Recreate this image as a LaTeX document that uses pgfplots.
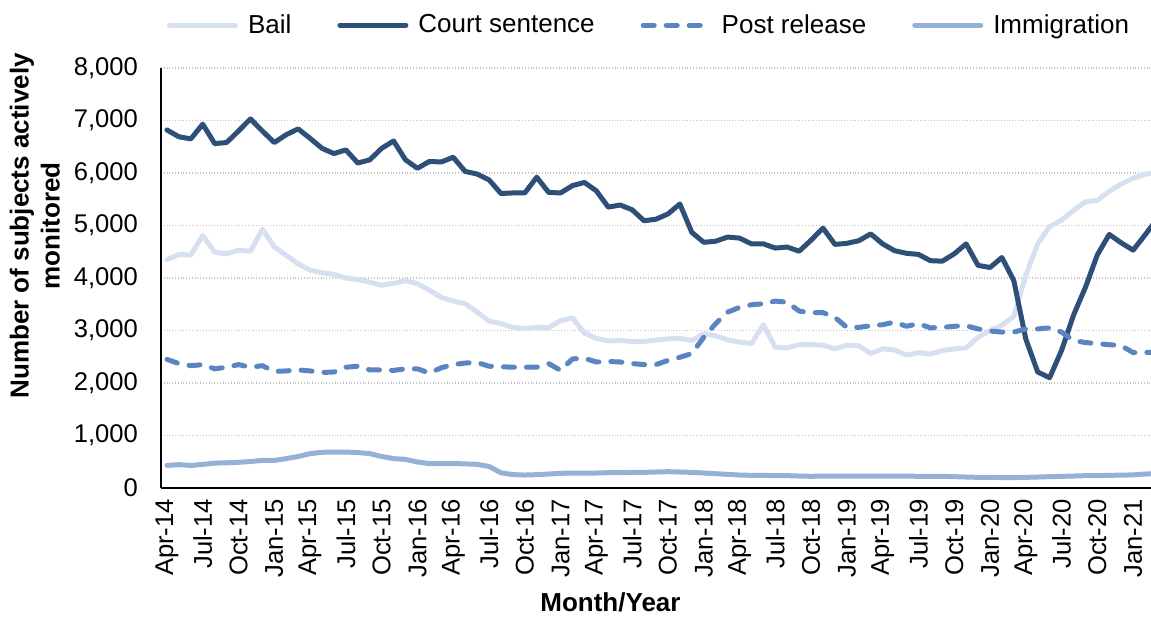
\documentclass[border=0pt]{standalone}
\usepackage{pgfplots}
\pgfplotsset{compat=1.18}
\usepackage{pgfplotstable}
\usepackage{fontspec}
\setmainfont{Liberation Sans}
\usetikzlibrary{calc}

\definecolor{bailc}{HTML}{D6E0F0}
\definecolor{courtc}{HTML}{2E5078}
\definecolor{postc}{HTML}{5A85C2}
\definecolor{immc}{HTML}{95B1D7}

% month index (0 = Apr-14), subjects actively monitored
\pgfplotstableread{
i  bail court post imm
0  4350 6820 2450 430
1  4445 6690 2370 445
2  4440 6650 2330 430
3  4810 6930 2350 450
4  4490 6560 2270 475
5  4460 6580 2300 480
6  4530 6800 2350 490
7  4510 7030 2300 505
8  4930 6800 2330 525
9  4590 6580 2220 525
10 4430 6730 2230 560
11 4270 6840 2250 600
12 4150 6660 2230 655
13 4100 6470 2200 680
14 4070 6370 2210 685
15 4000 6440 2300 685
16 3970 6190 2320 675
17 3920 6250 2250 655
18 3860 6470 2250 600
19 3900 6610 2240 560
20 3950 6250 2270 545
21 3890 6090 2270 495
22 3770 6220 2190 465
23 3630 6210 2290 465
24 3560 6300 2350 465
25 3510 6030 2380 460
26 3350 5980 2390 450
27 3180 5870 2320 410
28 3130 5610 2310 290
29 3060 5620 2300 255
30 3040 5620 2300 247
31 3060 5920 2300 254
32 3050 5630 2370 266
33 3190 5620 2240 279
34 3240 5760 2460 285
35 2950 5820 2470 285
36 2850 5660 2400 285
37 2800 5350 2410 292
38 2810 5390 2400 292
39 2790 5300 2370 298
40 2790 5090 2350 298
41 2820 5120 2350 304
42 2840 5220 2430 311
43 2850 5410 2490 304
44 2810 4870 2560 298
45 2940 4680 2870 285
46 2900 4700 3130 273
47 2820 4780 3350 260
48 2780 4760 3440 247
49 2750 4650 3490 241
50 3110 4650 3510 241
51 2680 4570 3560 235
52 2670 4590 3540 235
53 2730 4510 3370 228
54 2730 4720 3340 222
55 2720 4950 3340 228
56 2650 4640 3250 228
57 2720 4660 3060 228
58 2710 4710 3060 228
59 2560 4840 3090 228
60 2650 4650 3110 228
61 2630 4520 3160 228
62 2530 4470 3080 228
63 2580 4450 3130 222
64 2550 4330 3050 222
65 2620 4320 3060 222
66 2650 4460 3080 216
67 2670 4650 3090 209
68 2870 4240 3030 203
69 3000 4200 2990 203
70 3100 4390 2970 197
71 3270 3950 2970 197
72 4050 2840 3030 203
73 4650 2210 3030 209
74 4980 2100 3050 216
75 5100 2620 2970 222
76 5290 3290 2810 228
77 5450 3820 2770 235
78 5480 4440 2750 235
79 5650 4830 2730 241
80 5790 4670 2710 245
81 5900 4530 2580 250
82 5975 4820 2580 266
83 6010 5120 2590 275
}\mydata

\begin{document}
\begin{tikzpicture}
\begin{axis}[
  scale only axis,
  width=495pt,height=210pt,
  xmin=-0.5,xmax=82.5,ymin=0,ymax=8000,
  xtick={0,3,...,81},
  xticklabels={Apr-14,Jul-14,Oct-14,Jan-15,Apr-15,Jul-15,Oct-15,Jan-16,Apr-16,Jul-16,Oct-16,Jan-17,Apr-17,Jul-17,Oct-17,Jan-18,Apr-18,Jul-18,Oct-18,Jan-19,Apr-19,Jul-19,Oct-19,Jan-20,Apr-20,Jul-20,Oct-20,Jan-21},
  ytick={0,1000,...,8000},
  axis x line*=bottom,axis y line*=left,
  axis line style={-,line width=0.9pt,black},
  major tick length=0pt,
  ymajorgrids,
  major grid style={gray!45,densely dotted,line width=0.6pt},
  tick label style={font=\fontsize{12.8}{14}\selectfont},
  x tick label style={rotate=90,anchor=east},
  xticklabel shift=2pt,
  yticklabel shift=8pt,
  /pgf/number format/.cd,1000 sep={,},assume math mode=true,
  /pgfplots/.cd,
  ylabel={Number of subjects actively\\monitored},
  ylabel style={align=center,font=\bfseries\fontsize{13}{15.5}\selectfont,
    at={(axis description cs:-0.095,0.624)},anchor=south},
  xlabel={Month/Year},
  xlabel style={font=\bfseries\fontsize{13}{15.5}\selectfont,
    at={(axis description cs:0.454,0)},anchor=center,yshift=-57pt},
  legend columns=4,
  legend style={draw=none,fill=none,at={(0.494,1.102)},anchor=center,
    font=\fontsize{13}{15}\selectfont,
    /tikz/every odd column/.append style={column sep=3pt},
    /tikz/every even column/.append style={column sep=21pt}},
  legend image code/.code={\draw[#1] (0pt,0pt) -- (33pt,0pt);},
  every axis plot/.append style={line width=2.5pt,line join=round,line cap=round},
]
  \addplot[bailc] table[x=i,y=bail] {\mydata};
  \addplot[courtc] table[x=i,y=court] {\mydata};
  \addplot[postc,dash pattern=on 5.5pt off 6pt] table[x=i,y=post] {\mydata};
  \addplot[immc] table[x=i,y=imm] {\mydata};
  \legend{Bail,Court sentence,Post release,Immigration}
  \coordinate (O) at (rel axis cs:0,0);
  \coordinate (T) at (rel axis cs:1,1);
\end{axis}
\pgfresetboundingbox
\path ($(O)+(-80.5pt,-65.5pt)$) rectangle ($(T)+(0pt,34pt)$);
\end{tikzpicture}
\end{document}
